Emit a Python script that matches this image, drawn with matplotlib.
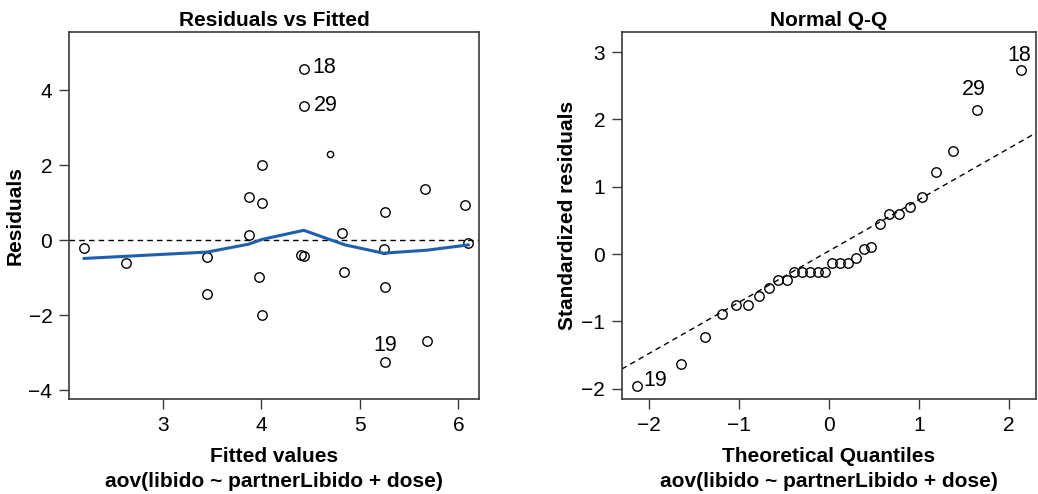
import matplotlib.pyplot as plt

plt.rcParams['font.family'] = ['Liberation Sans', 'DejaVu Sans']
plt.rcParams['axes.unicode_minus'] = True

# 殘差 vs 擬合值
fitted = [2.20, 2.62, 3.45, 3.45, 3.87, 3.87, 4.01, 3.98, 4.01, 4.40, 4.43,
          4.82, 4.84, 5.24, 5.26, 5.26, 5.26, 5.66, 5.68, 6.07, 6.10,
          4.43, 4.43, 4.01]
resid = [-0.21, -0.61, -0.45, -1.45, 1.14, 0.14, 0.99, -0.99, -2.01, -0.40, -0.43,
         0.19, -0.85, -0.23, 0.75, -1.25, -3.25, 1.35, -2.68, 0.93, -0.08,
         4.57, 3.58, 1.99]
small_x = [4.70]
small_y = [2.30]
smooth_x = [2.20, 3.45, 3.87, 4.01, 4.43, 4.85, 5.24, 5.68, 6.10]
smooth_y = [-0.49, -0.32, -0.11, 0.02, 0.26, -0.13, -0.35, -0.27, -0.13]

# Q-Q
theo = [-2.13, -1.64, -1.38, -1.19, -1.03, -0.90, -0.78, -0.67, -0.57, -0.47,
        -0.39, -0.30, -0.21, -0.12, -0.04, 0.04, 0.12, 0.21, 0.30, 0.39,
        0.47, 0.57, 0.67, 0.78, 0.90, 1.03, 1.19, 1.38, 1.64, 2.13]
std_resid = [-1.96, -1.64, -1.23, -0.89, -0.76, -0.76, -0.62, -0.51, -0.38, -0.38,
             -0.27, -0.26, -0.26, -0.26, -0.26, -0.14, -0.13, -0.13, -0.06, 0.08,
             0.10, 0.44, 0.60, 0.60, 0.70, 0.85, 1.22, 1.53, 2.14, 2.74]
qq_intercept = 0.045
qq_slope = 0.763

model = 'aov(libido ~ partnerLibido + dose)'

fig = plt.figure(figsize=(10.38, 4.94), dpi=100)
ax1 = fig.add_axes([0.0665, 0.1923, 0.395, 0.7429])
ax2 = fig.add_axes([0.599, 0.1923, 0.399, 0.7429])

mk = dict(ls='none', marker='o', mfc='none', mec='black', mew=1.0)
fs = 15

#左圖
ax1.plot(fitted, resid, ms=6.8, **mk)
ax1.plot(small_x, small_y, ms=4.5, **mk)
ax1.axhline(0, color='black', ls=(0, (4, 3)), lw=1)
ax1.plot(smooth_x, smooth_y, color='#1f5fae', lw=2.2)
ax1.text(4.52, 4.60, '18', fontsize=15.5, va='center', ha='left')
ax1.text(4.53, 3.60, '29', fontsize=15.5, va='center', ha='left')
ax1.text(5.26, -2.82, '19', fontsize=15.5, va='center', ha='center')
ax1.set_xlim(2.046, 6.21)
ax1.set_ylim(-4.24, 5.55)
ax1.set_xticks([3, 4, 5, 6])
ax1.set_yticks([-4, -2, 0, 2, 4])
ax1.set_title('Residuals vs Fitted', fontsize=fs, fontweight='bold', pad=4)
ax1.set_xlabel('Fitted values\n' + model, fontsize=fs, fontweight='bold',
               linespacing=1.4, labelpad=9)
ax1.set_ylabel('Residuals', fontsize=fs, fontweight='bold', labelpad=3)

#右圖
ax2.plot(theo, std_resid, ms=6.8, **mk)
ax2.axline((0, qq_intercept), slope=qq_slope, color='black', ls=(0, (4, 3)), lw=1)
ax2.text(2.12, 2.95, '18', fontsize=15.5, va='center', ha='center')
ax2.text(1.615, 2.44, '29', fontsize=15.5, va='center', ha='center')
ax2.text(-2.06, -1.88, '19', fontsize=15.5, va='center', ha='left')
ax2.set_xlim(-2.30, 2.30)
ax2.set_ylim(-2.155, 3.30)
ax2.set_xticks([-2, -1, 0, 1, 2])
ax2.set_yticks([-2, -1, 0, 1, 2, 3])
ax2.set_title('Normal Q-Q', fontsize=fs, fontweight='bold', pad=4)
ax2.set_xlabel('Theoretical Quantiles\n' + model, fontsize=fs, fontweight='bold',
               linespacing=1.4, labelpad=9)
ax2.set_ylabel('Standardized residuals', fontsize=fs, fontweight='bold', labelpad=3)

for ax in (ax1, ax2):
    for s in ax.spines.values():
        s.set_color('#3a3a3a')
        s.set_linewidth(1.2)
    ax.tick_params(direction='out', length=7, width=1, labelsize=15, pad=5,
                   color='#3a3a3a')

fig.savefig('out.png', dpi=100)
